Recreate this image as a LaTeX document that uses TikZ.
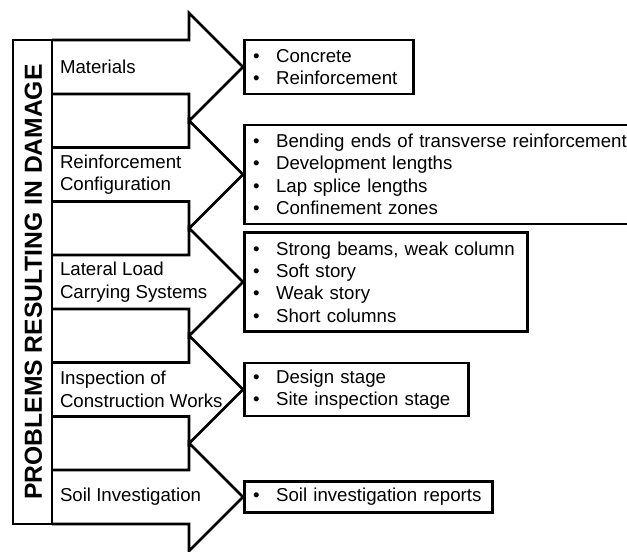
\documentclass[tikz,border=0pt]{standalone}
\usepackage{fontspec}
\setmainfont{Liberation Sans}
\newcommand{\bulletitem}{\makebox[17.3pt][l]{\textbullet}}

\begin{document}
\begin{tikzpicture}[x=0.75pt, y=-0.75pt, line width=2pt,
  every node/.style={font=\fontsize{14}{16.8}\selectfont},
  topic/.style={anchor=west, inner xsep=5pt, inner ysep=0pt, align=left},
  itembox/.style={draw, anchor=west, inner xsep=6.5pt, inner ysep=2pt, align=left}]
	\useasboundingbox (0,0) rectangle (627,551);
	\foreach \c/\n in {67/1, 174.5/2, 282/3, 389.5/4, 497/5} {
		\draw (52,\c-27) -- (189,\c-27) -- (189,\c-54) -- (243,\c) -- (189,\c+54) -- (189,\c+27) -- (52,\c+27);
		\coordinate (tip\n) at (243,\c);
		\coordinate (base\n) at (52,\c);
	}
	\draw (13,40) rectangle (52,524);
	\node[rotate=90, font=\bfseries\fontsize{18.5}{22}\selectfont] (title) at (33.5,282) {PROBLEMS RESULTING IN DAMAGE};
	\node[topic] (materials) at (base1) {Materials};
	\node[topic] (config) at (base2) {Reinforcement\\Configuration};
	\node[topic] (lateral) at (base3) {Lateral Load\\Carrying Systems};
	\node[topic] (inspection) at (base4) {Inspection of\\Construction Works};
	\node[topic] (soil) at (base5) {Soil Investigation};
	\node[itembox, text width=113.75pt, minimum height=40.5pt] (matbox) at (tip1) {\bulletitem Concrete\\\bulletitem Reinforcement};
	\node[itembox, text width=284pt, minimum height=74.25pt] (configbox) at (tip2) {\bulletitem Bending ends of transverse reinforcement\\\bulletitem Development lengths\\\bulletitem Lap splice lengths\\\bulletitem Confinement zones};
	\node[itembox, text width=199.25pt, minimum height=74.25pt] (lateralbox) at (tip3) {\bulletitem Strong beams, weak column\\\bulletitem Soft story\\\bulletitem Weak story\\\bulletitem Short columns};
	\node[itembox, text width=155pt, minimum height=39.75pt] (inspectionbox) at (tip4) {\bulletitem Design stage\\\bulletitem Site inspection stage};
	\node[itembox, text width=173pt, minimum height=23.25pt] (soilbox) at (tip5) {\bulletitem Soil investigation reports};
\end{tikzpicture}
\end{document}
